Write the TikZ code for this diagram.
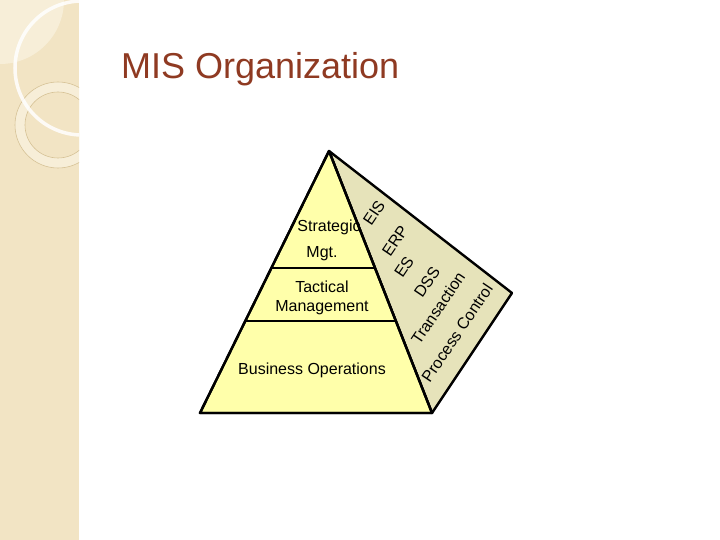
\documentclass[tikz,border=0pt]{standalone}
\usepackage{fontspec}
\setmainfont{Liberation Sans}
\usetikzlibrary{calc, positioning}

\definecolor{stripbg}{RGB}{242,228,196}
\definecolor{striplt}{RGB}{247,238,216}
\definecolor{ringline}{RGB}{214,194,150}
\definecolor{titlered}{RGB}{143,58,34}
\definecolor{pyrfill}{RGB}{255,255,170}
\definecolor{sideface}{RGB}{230,227,186}

\begin{document}
\begin{tikzpicture}[x=1pt, y=-1pt,
  level/.style={font=\fontsize{16}{19}\selectfont, inner sep=0pt, anchor=base},
  sys/.style={font=\fontsize{16}{19}\selectfont, inner sep=0pt, rotate=56},
  edge/.style={line width=2.4pt, line join=round}]
\useasboundingbox (0,0) rectangle (720,540);
% slide strip
\begin{scope}
  \clip (0,0) rectangle (79,540);
  \fill[stripbg] (0,0) rectangle (79,540);
  \fill[striplt] (0,0) circle (64);
  \fill[striplt] (58,125) circle (43);
  \fill[stripbg] (58,125) circle (33);
  \draw[ringline, line width=0.6pt] (58,125) circle (43) (58,125) circle (33);
  \draw[white, line width=3.5pt, opacity=.85] (82,68) circle (67);
\end{scope}
\node[anchor=base west, inner sep=0pt, text=titlered, font=\fontsize{36}{40}\selectfont] (title) at (121,79) {MIS Organization};
% pyramid
\coordinate (apex) at (329,151);
\coordinate (bl) at (200,413);
\coordinate (br) at (432,413);
\coordinate (tip) at (512,293);
\filldraw[fill=sideface, edge] (apex) -- (tip) -- (br) -- cycle;
\filldraw[fill=pyrfill, edge] (apex) -- (br) -- (bl) -- cycle;
\draw[line width=2pt] ($(apex)!0.4466!(bl)$) -- ($(apex)!0.4466!(br)$);
\draw[line width=2pt] ($(apex)!0.6489!(bl)$) -- ($(apex)!0.6489!(br)$);
\draw[edge] (apex) -- (br) -- (bl) -- cycle;
% levels
\node[level] (strat) at (329,232) {Strategic};
\node[level] (mgt) at (322,257) {Mgt.};
\node[level] (tact) at (322,292) {Tactical};
\node[level] (mgmt) at (322,311) {Management};
\node[level] (ops) at (312,374) {Business Operations};
% systems
\node[sys] (eis) at (374,213) {EIS};
\node[sys] (erp) at (395,241) {ERP};
\node[sys] (es) at (404,267) {ES};
\node[sys] (dss) at (427,282) {DSS};
\node[sys] (tps) at (438,308) {Transaction};
\node[sys] (pcs) at (457,333) {Process Control};
\end{tikzpicture}
\end{document}
